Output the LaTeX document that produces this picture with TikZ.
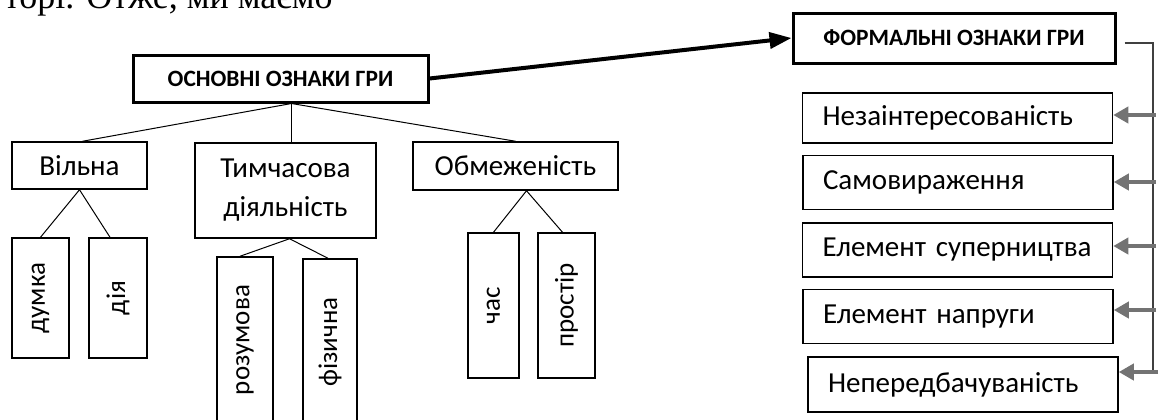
\documentclass[tikz,border=0pt]{standalone}
\usepackage{fontspec}
\setmainfont{Liberation Serif}
\newfontfamily\boxfont{Carlito}
\usetikzlibrary{arrows.meta,calc}

\tikzset{
  box/.style={draw,line width=0.75pt,inner sep=0pt,font=\boxfont\fontsize{14.5}{19.5}\selectfont},
  headbox/.style={draw,line width=1.5pt,inner sep=0pt,font=\boxfont\bfseries\fontsize{11.7}{14}\selectfont},
  featbox/.style={box,align=left,text width=135pt,inner xsep=10pt,minimum height=27pt},
  vbox/.style={box,rotate=90,font=\boxfont\fontsize{13.5}{16}\selectfont},
  link/.style={line width=0.5pt},
  mainarrow/.style={line width=2pt,-{Triangle[length=11pt,width=8pt]}},
  grayarrow/.style={draw=black!55,line width=2pt,-{Triangle[length=7.5pt,width=8pt]}},
}

\begin{document}
\begin{tikzpicture}[x=0.5pt,y=-0.5pt]
  \useasboundingbox (0,0) rectangle (1160,419);

  \node[anchor=base west,font=\fontsize{18}{21}\selectfont] (topline) at (-3,8) {торі. Отже, ми маємо};

  \node[headbox,minimum width=147.5pt,minimum height=23.5pt] (main) at (280.5,78.5) {ОСНОВНІ ОЗНАКИ ГРИ};
  \node[headbox,minimum width=161pt,minimum height=25pt] (form) at (954,38) {ФОРМАЛЬНІ ОЗНАКИ ГРИ};

  \node[box,minimum width=67.5pt,minimum height=23.5pt] (vil) at (79.5,165.5) {Вільна};
  \node[box,align=center,minimum width=90.5pt,minimum height=47.5pt] (tym) at (285.5,190.5) {Тимчасова\\діяльність};
  \node[box,minimum width=102.5pt,minimum height=24pt] (obm) at (515.5,166) {Обмеженість};

  \node[vbox,minimum width=60pt,minimum height=28.5pt] (dum) at (40.5,298) {думка};
  \node[vbox,minimum width=60pt,minimum height=29pt] (dia) at (118,298) {дія};
  \node[vbox,minimum width=83pt,minimum height=28pt] (roz) at (245,340) {розумова};
  \node[vbox,minimum width=83pt,minimum height=27pt] (fiz) at (330,342) {фізична};
  \node[vbox,minimum width=72.5pt,minimum height=25.5pt] (chas) at (493.5,305.5) {час};
  \node[vbox,minimum width=72.5pt,minimum height=28.5pt] (prost) at (566.5,305.5) {простір};

  \node[featbox,minimum height=25pt] (r1) at (957.5,118) {Незаінтересованість};
  \node[featbox] (r2) at (958,182.5) {Самовираження};
  \node[featbox] (r3) at (957.5,250) {Елемент суперництва};
  \node[featbox] (r4) at (958,316.5) {Елемент напруги};
  \node[featbox,minimum height=27.5pt] (r5) at (963,384.5) {Непередбачуваність};

  \coordinate (apex) at ($(main.south)+(11,0)$);
  \draw[link] (apex) -- ($(vil.north)+(3,0)$);
  \draw[link] (apex) -- (apex |- tym.north);
  \draw[link] (apex) -- (obm.north);

  \draw[link] (vil.south) -- (dum.east);
  \draw[link] (vil.south) -- ($(dia.east)+(-8,0)$);
  \draw[link] ($(tym.south)+(4,0)$) -- ($(roz.east)+(-5,0)$);
  \draw[link] ($(tym.south)+(4,0)$) -- ($(fiz.east)+(-2,0)$);
  \draw[link] ($(obm.south)+(11,0)$) -- (chas.east);
  \draw[link] ($(obm.south)+(11,0)$) -- ($(prost.east)+(-4,0)$);

  \draw[mainarrow] (main.east) -- (form.west);

  \coordinate (btop) at (1153,43);
  \coordinate (b1) at (1156,115);
  \coordinate (b2) at (1156,182);
  \coordinate (b3) at (1156,246);
  \coordinate (b4) at (1156,310);
  \coordinate (b5) at (1158,372);
  \draw[line width=0.75pt,black!75] ($(btop -| form.east)+(8,0)$) -- (btop) -- (btop |- b5);
  \draw[grayarrow] (b1) -- (b1 -| r1.east);
  \draw[grayarrow] (b2) -- (b2 -| r2.east);
  \draw[grayarrow] (b3) -- (b3 -| r3.east);
  \draw[grayarrow] (b4) -- (b4 -| r4.east);
  \draw[grayarrow] (b5) -- (b5 -| r5.east);
\end{tikzpicture}
\end{document}
